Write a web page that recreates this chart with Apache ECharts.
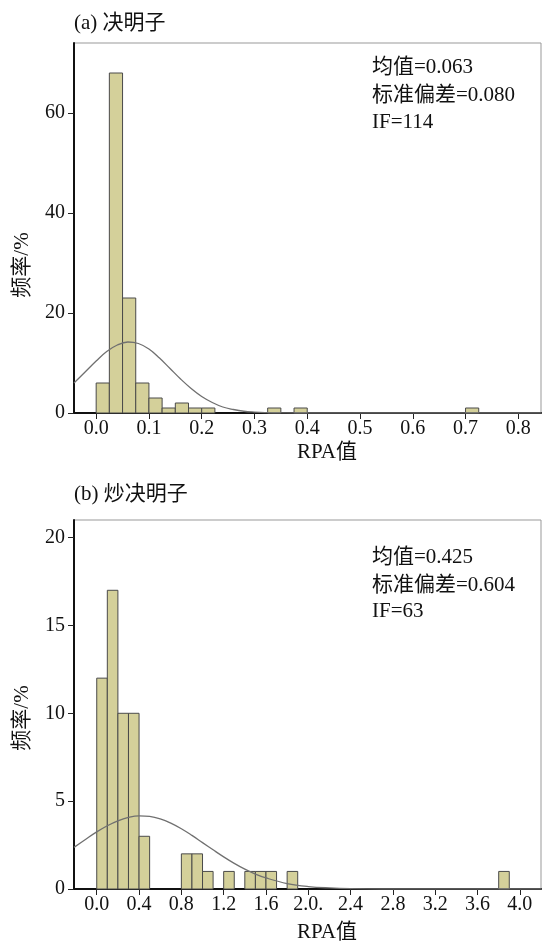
<!DOCTYPE html>
<html>
<head>
<meta charset="utf-8">
<script src="https://cdn.jsdelivr.net/npm/echarts@6/dist/echarts.min.js"></script>
<style>
html, body { margin: 0; padding: 0; background: #fff; }
#chart { width: 542px; height: 945px; }
</style>
</head>
<body>
<div id="chart"></div>
<script>
// (a) 决明子
const binStartA = [0, 0.025, 0.05, 0.075, 0.1, 0.125, 0.15, 0.175, 0.2, 0.325, 0.375, 0.7]
const binWidthA = 0.025
const countA = [6, 68, 23, 6, 3, 1, 2, 1, 1, 1, 1, 1]
const curveXA = [-0.042, -0.02, 0, 0.02, 0.04, 0.06, 0.08, 0.1, 0.12, 0.14, 0.16, 0.18, 0.2, 0.22, 0.24, 0.26, 0.28, 0.3, 0.32, 0.36, 0.4, 0.843]
const curveYA = [6.0, 8.3, 10.4, 12.3, 13.6, 14.2, 13.9, 12.8, 11.0, 8.9, 6.8, 4.9, 3.3, 2.1, 1.2, 0.7, 0.35, 0.18, 0.08, 0.02, 0, 0]
const xTickA = [0, 0.1, 0.2, 0.3, 0.4, 0.5, 0.6, 0.7, 0.8]
const xTickLabelA = ['0.0', '0.1', '0.2', '0.3', '0.4', '0.5', '0.6', '0.7', '0.8']
const yTickA = [0, 20, 40, 60]
const statsA = ['均值=0.063', '标准偏差=0.080', 'IF=114']

// (b) 炒决明子
const binStartB = [0, 0.1, 0.2, 0.3, 0.4, 0.8, 0.9, 1.0, 1.2, 1.4, 1.5, 1.6, 1.8, 3.8]
const binWidthB = 0.1
const countB = [12, 17, 10, 10, 3, 2, 2, 1, 1, 1, 1, 1, 1, 1]
const curveXB = [-0.215, -0.1, 0, 0.1, 0.2, 0.3, 0.4, 0.5, 0.6, 0.7, 0.8, 0.9, 1.0, 1.1, 1.2, 1.3, 1.4, 1.5, 1.6, 1.8, 2.0, 2.2, 2.4, 2.7, 4.2]
const curveYB = [2.37, 2.85, 3.25, 3.6, 3.88, 4.07, 4.16, 4.13, 3.99, 3.75, 3.43, 3.05, 2.64, 2.23, 1.83, 1.46, 1.13, 0.85, 0.63, 0.31, 0.14, 0.06, 0.02, 0, 0]
const xTickB = [0, 0.4, 0.8, 1.2, 1.6, 2.0, 2.4, 2.8, 3.2, 3.6, 4.0]
const xTickLabelB = ['0.0', '0.4', '0.8', '1.2', '1.6', '2.0.', '2.4', '2.8', '3.2', '3.6', '4.0']
const yTickB = [0, 5, 10, 15, 20]
const statsB = ['均值=0.425', '标准偏差=0.604', 'IF=63']

const FONT = "'Liberation Serif', 'Noto Sans CJK SC', serif"

function barItem(params, api) {
    const p0 = api.coord([api.value(0), api.value(2)])
    const p1 = api.coord([api.value(1), 0])
    return {
        type: 'rect',
        shape: { x: p0[0], y: p0[1], width: p1[0] - p0[0], height: p1[1] - p0[1] },
        style: { fill: '#d4d09a', stroke: '#4a4a4a', lineWidth: 1 }
    }
}

function xAxisOf(idx, min, max, ticks, labels) {
    return {
        type: 'value', gridIndex: idx, min: min, max: max,
        splitLine: { show: false },
        axisLine: { show: true, onZero: false, lineStyle: { color: '#111', width: 2 } },
        axisTick: { show: true, customValues: ticks, length: 6, lineStyle: { color: '#222' } },
        axisLabel: {
            customValues: ticks, margin: 6, color: '#111', fontSize: 20, fontFamily: FONT,
            formatter: (v) => labels[ticks.findIndex(t => Math.abs(t - v) < 1e-9)]
        }
    }
}

function yAxisOf(idx, max, ticks) {
    return {
        type: 'value', gridIndex: idx, min: 0, max: max,
        splitLine: { show: false },
        axisLine: { show: true, onZero: false, lineStyle: { color: '#111', width: 2 } },
        axisTick: { show: true, customValues: ticks, length: 6, lineStyle: { color: '#222' } },
        axisLabel: { customValues: ticks, margin: 9, color: '#111', fontSize: 20, fontFamily: FONT }
    }
}

function textEl(x, y, text, rotate) {
    return {
        type: 'text', x: x, y: y, rotation: rotate || 0,
        style: { text: text, fill: '#111', font: '21px ' + FONT, align: rotate ? 'center' : 'left', verticalAlign: 'middle' }
    }
}

var myChart = echarts.init(document.getElementById('chart'))
myChart.setOption({
    animation: false,
    grid: [
        { left: 74, top: 43, width: 467, height: 370, show: true, borderColor: '#999', borderWidth: 1 },
        { left: 74, top: 520, width: 467, height: 369, show: true, borderColor: '#999', borderWidth: 1 }
    ],
    xAxis: [
        xAxisOf(0, -0.042, 0.843, xTickA, xTickLabelA),
        xAxisOf(1, -0.215, 4.2, xTickB, xTickLabelB)
    ],
    yAxis: [
        yAxisOf(0, 74, yTickA),
        yAxisOf(1, 21, yTickB)
    ],
    graphic: [
        textEl(74, 23, '(a) 决明子'),
        textEl(74, 494, '(b) 炒决明子'),
        textEl(372, 67, statsA[0]),
        textEl(372, 95, statsA[1]),
        textEl(372, 122, statsA[2]),
        textEl(372, 557, statsB[0]),
        textEl(372, 585, statsB[1]),
        textEl(372, 611, statsB[2]),
        textEl(297, 452, 'RPA值'),
        textEl(297, 932, 'RPA值'),
        textEl(22, 265, '频率/%', Math.PI / 2),
        textEl(22, 718, '频率/%', Math.PI / 2)
    ],
    series: [
        {
            type: 'custom', xAxisIndex: 0, yAxisIndex: 0, renderItem: barItem,
            encode: { x: [0, 1], y: 2 },
            data: binStartA.map((s, i) => [s, s + binWidthA, countA[i]])
        },
        {
            type: 'line', xAxisIndex: 0, yAxisIndex: 0, smooth: 0.4, symbol: 'none', z: 5,
            lineStyle: { color: '#707070', width: 1.3 },
            data: curveXA.map((x, i) => [x, curveYA[i]])
        },
        {
            type: 'custom', xAxisIndex: 1, yAxisIndex: 1, renderItem: barItem,
            encode: { x: [0, 1], y: 2 },
            data: binStartB.map((s, i) => [s, s + binWidthB, countB[i]])
        },
        {
            type: 'line', xAxisIndex: 1, yAxisIndex: 1, smooth: 0.4, symbol: 'none', z: 5,
            lineStyle: { color: '#707070', width: 1.3 },
            data: curveXB.map((x, i) => [x, curveYB[i]])
        }
    ]
})
</script>
</body>
</html>
